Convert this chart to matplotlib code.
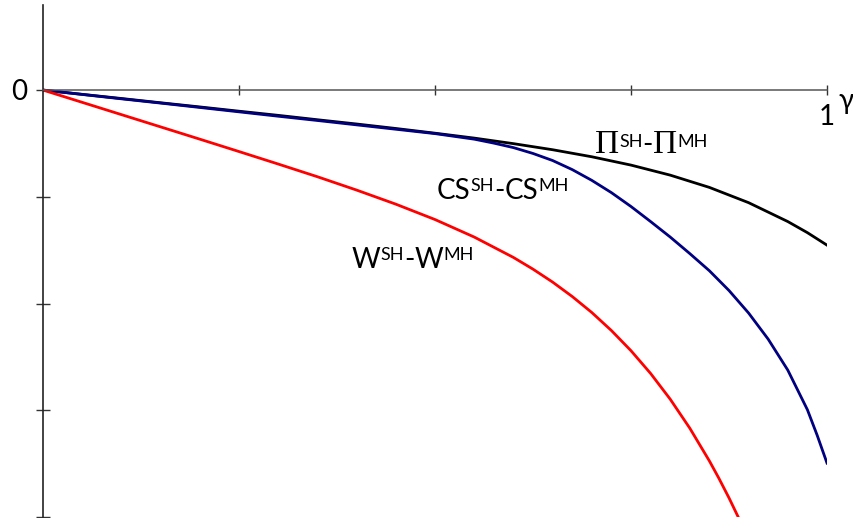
import matplotlib
matplotlib.use("Agg")
import matplotlib.pyplot as plt
from matplotlib.transforms import IdentityTransform

# ---- data ----
gamma_pi = [0.0, 0.05, 0.1, 0.15, 0.2, 0.25, 0.3, 0.35, 0.4, 0.45, 0.5, 0.55, 0.6, 0.65,
            0.7, 0.75, 0.8, 0.85, 0.9, 0.95, 0.975, 1.0]
pi_diff = [0.0, -0.040, -0.079, -0.119, -0.158, -0.198, -0.237, -0.278, -0.318, -0.360,
           -0.404, -0.450, -0.502, -0.559, -0.625, -0.703, -0.797, -0.912, -1.055, -1.232,
           -1.336, -1.453]

gamma_cs = [0.0, 0.05, 0.1, 0.15, 0.2, 0.25, 0.3, 0.35, 0.4, 0.45, 0.5, 0.55, 0.575, 0.6,
            0.625, 0.65, 0.675, 0.7, 0.725, 0.75, 0.775, 0.8, 0.825, 0.85, 0.875, 0.9, 0.925,
            0.95, 0.975, 0.9875, 1.0]
cs_diff = [0.0, -0.041, -0.082, -0.122, -0.163, -0.204, -0.245, -0.285, -0.326, -0.367,
           -0.408, -0.460, -0.497, -0.539, -0.594, -0.660, -0.745, -0.846, -0.961, -1.091,
           -1.232, -1.377, -1.532, -1.693, -1.878, -2.089, -2.334, -2.624, -2.995, -3.235,
           -3.495]

gamma_w = [0.0, 0.05, 0.1, 0.15, 0.2, 0.25, 0.3, 0.35, 0.4, 0.45, 0.5, 0.55, 0.6, 0.625,
           0.65, 0.675, 0.7, 0.725, 0.75, 0.775, 0.8, 0.825, 0.85, 0.862, 0.875, 0.89]
w_diff = [0.0, -0.115, -0.230, -0.345, -0.460, -0.576, -0.693, -0.812, -0.937, -1.069,
          -1.213, -1.377, -1.568, -1.678, -1.799, -1.934, -2.084, -2.253, -2.442, -2.655,
          -2.896, -3.168, -3.475, -3.636, -3.821, -4.05]

x_ticks = [0.25, 0.5, 0.75, 1.0]
y_ticks = [0.0, -1.0, -2.0, -3.0, -4.0]

W, H = 854, 518
fig = plt.figure(figsize=(W / 100, H / 100), dpi=100)
ax = fig.add_axes([43 / W, 1 / H, 784 / W, 512 / H])
ax.set_xlim(0, 1)
ax.set_ylim(-4.0, 0.797)

ax.plot(gamma_pi, pi_diff, color="black", lw=2.0, solid_joinstyle="round")
ax.plot(gamma_cs, cs_diff, color="#000080", lw=2.0, solid_joinstyle="round")
ax.plot(gamma_w, w_diff, color="#ff0000", lw=2.0, solid_joinstyle="round")

for s in ("top", "right"):
    ax.spines[s].set_visible(False)
ax.spines["bottom"].set_position(("data", 0))
ax.spines["left"].set_position(("data", 0))
ax.spines["bottom"].set_color("#555555")
ax.spines["left"].set_color("#222222")
ax.spines["bottom"].set_linewidth(1.1)
ax.spines["left"].set_linewidth(1.2)
ax.set_xticks(x_ticks)
ax.set_yticks(y_ticks)
ax.set_xticklabels([])
ax.set_yticklabels([])
ax.tick_params(axis="x", direction="inout", length=7.5, width=1.0, color="#333333")
ax.tick_params(axis="y", direction="inout", length=9.5, width=1.0, color="#333333")
ax.patch.set_visible(False)

sans = ["Lato", "DejaVu Sans"]
serif = ["Liberation Serif", "DejaVu Serif"]

fig.text(19, H - 92.5, "0", transform=IdentityTransform(), fontsize=20, family=sans,
         ha="center", va="center")
fig.text(826.5, H - 117, "1", transform=IdentityTransform(), fontsize=20, family=sans,
         ha="center", va="center")
fig.text(846, H - 101, "γ", transform=IdentityTransform(), fontsize=20, family=sans,
         ha="center", va="center")

renderer = fig.canvas.get_renderer()


def label(x0, baseline, pieces):
    x = x0
    for s, size, fam, rise in pieces:
        t = fig.text(x, H - baseline + rise, s, transform=IdentityTransform(), fontsize=size,
                     family=fam, ha="left", va="baseline")
        bb = t.get_window_extent(renderer)
        x = bb.x1


base, sup = 20, 13
label(595, 153, [("Π", 24, serif, 0), ("SH", sup, sans, 6), ("-", base, sans, 0),
                 ("Π", 24, serif, 0), ("MH", sup, sans, 6)])
label(437, 199, [("CS", base, sans, 0), ("SH", sup, sans, 8), ("-", base, sans, 0),
                 ("CS", base, sans, 0), ("MH", sup, sans, 8)])
label(352, 268, [("W", base, sans, 0), ("SH", sup, sans, 8), ("-", base, sans, 0),
                 ("W", base, sans, 0), ("MH", sup, sans, 8)])

fig.savefig("out.png", dpi=100)
